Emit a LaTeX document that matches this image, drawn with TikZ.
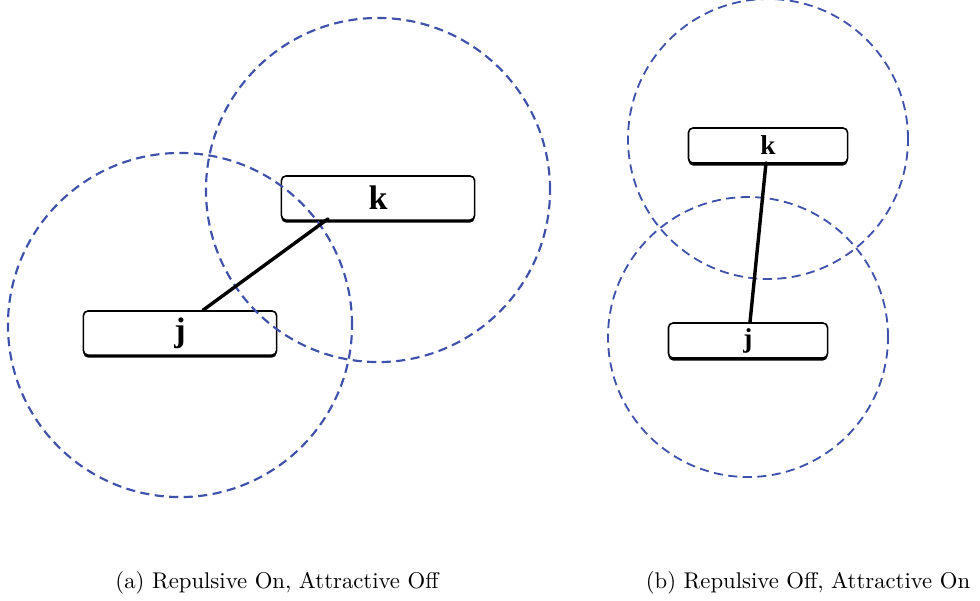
\documentclass[tikz,border=0pt]{standalone}
\usepackage{fontspec}
\usepackage{xcolor}
\usepackage{tikz}
\usetikzlibrary{
    positioning,
    calc,
    shadows
}
\newfontfamily\labelfont{Liberation Serif}
\definecolor{reachblue}{RGB}{62,82,172}

\begin{document}
\begin{tikzpicture}[
    x=0.44pt, y=-0.44pt,
    agent/.style={
        rectangle,
        rounded corners=2pt,
        draw,
        fill=white,
        line width=0.7pt,
        inner sep=0pt,
        general shadow={fill=black, shadow xshift=0pt, shadow yshift=-1.1pt}
    },
    bigagent/.style={
        agent,
        minimum width=85pt,
        minimum height=19.4pt,
        font=\labelfont\fontsize{15}{17}\selectfont\bfseries
    },
    smallagent/.style={
        agent,
        minimum width=70pt,
        minimum height=15.4pt,
        font=\labelfont\fontsize{12}{14}\selectfont\bfseries
    },
    reach/.style={
        circle,
        draw=reachblue,
        line width=0.95pt,
        dash pattern=on 4pt off 2.4pt,
        inner sep=0pt
    },
    link/.style={line width=1.5pt, line cap=round},
    caption/.style={anchor=base, font=\normalsize}
]
\useasboundingbox (0,0) rectangle (980,600);

% (a) repulsive on, attractive off
\node[bigagent] (kA) at (378,198) {k};
\node[bigagent] (jA) at (180,333) {j};
\node[reach, minimum size=151.4pt] (reachkA) at (378,190) {};
\node[reach, minimum size=151.4pt] (reachjA) at (180,325) {};
\draw[link] ($(jA.north)+(23,0)$) -- ($(kA.south)+(-50,-2)$);

% (b) repulsive off, attractive on
\node[smallagent] (kB) at (768,145.5) {k};
\node[smallagent] (jB) at (748,340.5) {j};
\node[reach, minimum size=123.2pt, line width=0.8pt] (reachkB) at (768,139) {};
\node[reach, minimum size=123.2pt, line width=0.8pt] (reachjB) at (748,337) {};
\draw[link] ($(kB.south)+(-2,-1)$) -- ($(jB.north)+(2,0)$);

\node[caption] (capA) at (277,588) {(a) Repulsive On, Attractive Off};
\node[caption] (capB) at (808,588) {(b) Repulsive Off, Attractive On};

\end{tikzpicture}
\end{document}
